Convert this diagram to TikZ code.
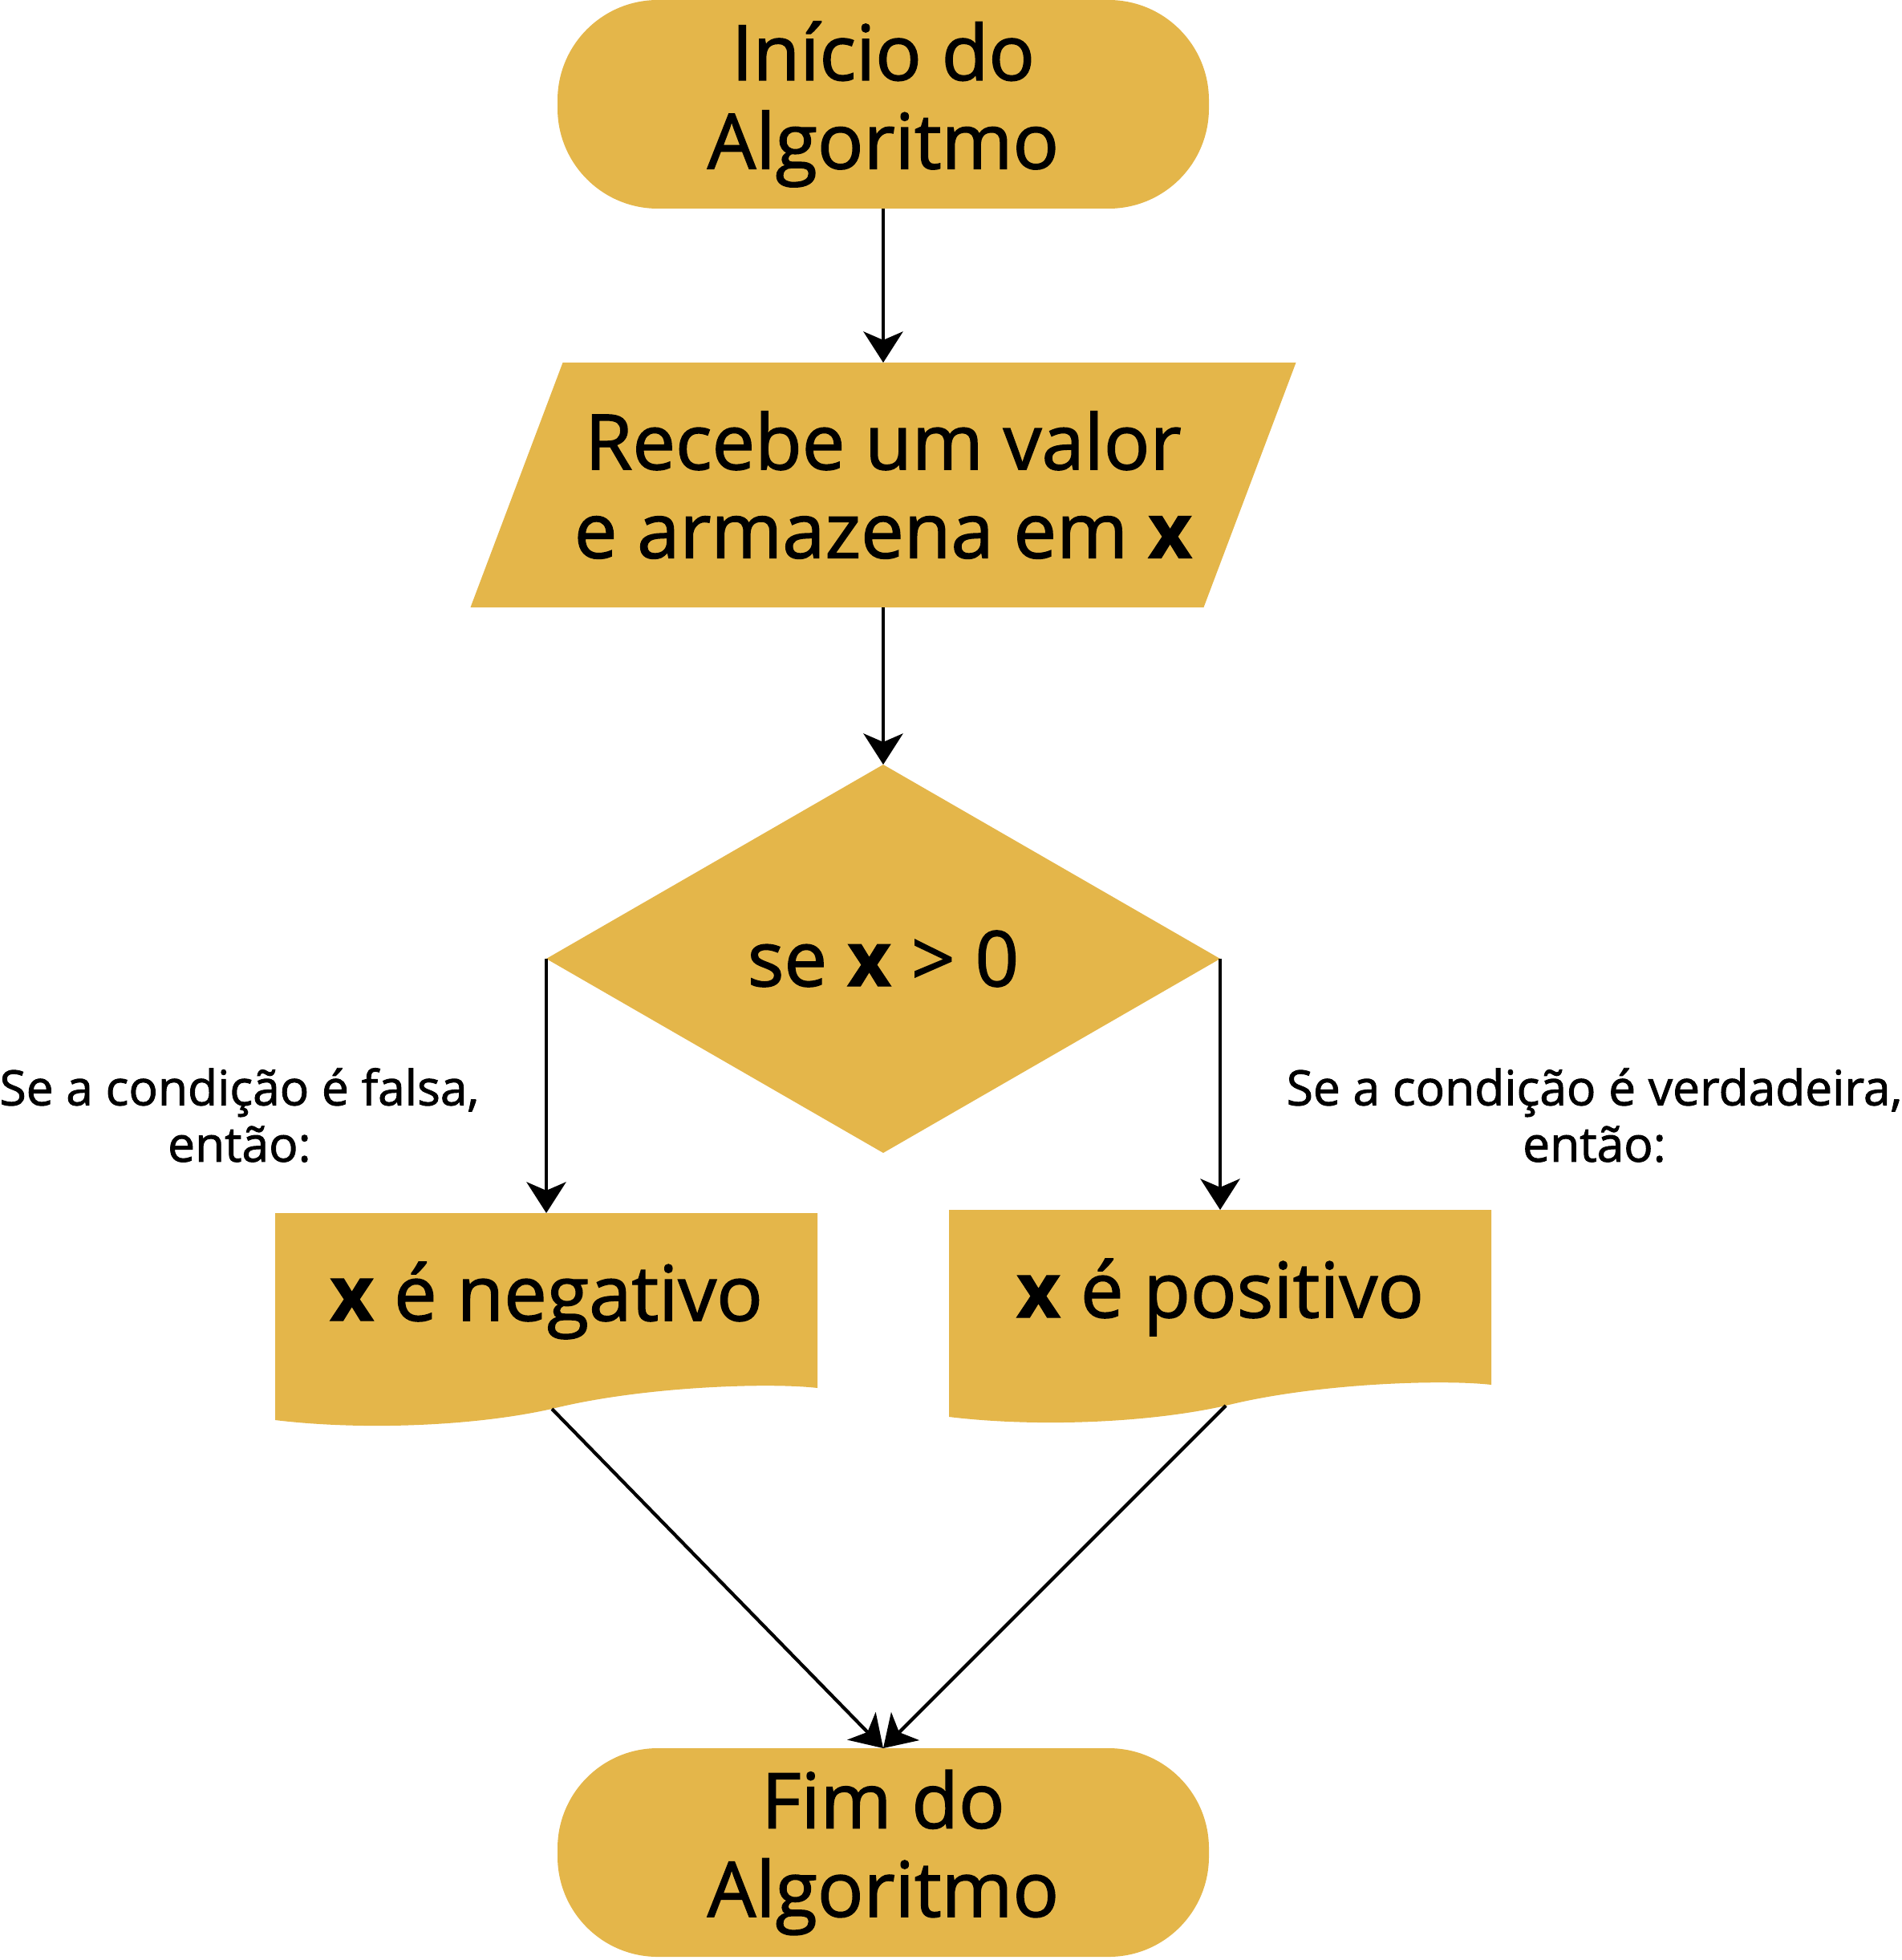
\documentclass[tikz,border=0pt]{standalone}
\usepackage{fontspec}
\setmainfont{Open Sans}[UprightFeatures={FakeBold=1.5}, BoldFeatures={FakeBold=1}]
\usepackage{tikz}
\usetikzlibrary{arrows.meta,positioning,shapes.geometric,calc,backgrounds}
\definecolor{ochre}{HTML}{E4B64A}
\tikzset{
  termbox/.style={
    rectangle, fill=ochre, rounded corners=1.25cm,
    minimum width=8.12cm, minimum height=2.6cm,
    font=\fontsize{27.2}{31.4}\selectfont, align=center,
    inner sep=0pt, outer sep=0pt
  },
  inputbox/.style={
    rectangle, minimum width=9.14cm, minimum height=3.05cm,
    font=\fontsize{27.2}{31.4}\selectfont, align=center,
    inner sep=0pt, outer sep=0pt
  },
  decbox/.style={
    diamond, fill=ochre,
    minimum width=8.4cm, minimum height=4.84cm,
    font=\fontsize{27.2}{31.4}\selectfont, align=center,
    inner sep=0pt, outer sep=0pt
  },
  docbox/.style={
    rectangle, minimum width=6.76cm, minimum height=2.18cm,
    font=\fontsize{27.2}{31.4}\selectfont, align=center,
    inner sep=0pt, outer sep=0pt
  },
  condlabel/.style={
    font=\fontsize{17.2}{20}\selectfont, align=center, inner sep=0pt
  },
  flowarrow/.style={
    -{Stealth[length=11pt, width=14pt, inset=3pt]}, line width=1.2pt, color=black
  },
}
% slanted input box behind a plain node
\newcommand{\paralshape}[1]{%
  \fill[ochre] ($(#1.north west)+(0.575,0)$) -- ($(#1.north east)+(0.575,0)$)
    -- ($(#1.south east)+(-0.575,0)$) -- ($(#1.south west)+(-0.575,0)$) -- cycle;}
% wavy bottom of a document box, leaves coordinate (name-wave)
\newcommand{\docshape}[1]{%
  \fill[ochre] (#1.north west) -- (#1.north east) -- (#1.south east)
    .. controls +(-0.6,0.07) and +(1.12,0.28) .. ($(#1.south)+(0.07,-0.26)$) coordinate (#1-wave)
    .. controls +(-0.98,-0.22) and +(1.07,-0.13) .. ($(#1.south west)+(0,-0.40)$) -- cycle;}

\begin{document}
\begin{tikzpicture}
    \useasboundingbox (0,0) rectangle (23.70,-24.43);

    % MAIN COLUMN
    \node[termbox] (inicio) at (11.01,-1.30) {Início do\\Algoritmo};
    \node[inputbox, below=1.92cm of inicio] (input) {Recebe um valor\\e armazena em \textbf{x}};
    \node[decbox, below=1.96cm of input] (dec) {se \textbf{x} > 0};

    % BRANCHES
    \node[docbox, below=3.17cm of dec.west] (neg) {\textbf{x} é negativo};
    \node[docbox, below=3.13cm of dec.east] (pos) {\textbf{x} é positivo};
    \begin{scope}[on background layer]
        \paralshape{input}
        \docshape{neg}
        \docshape{pos}
    \end{scope}

    \node[condlabel, left=0.83cm of dec.west, yshift=-1.95cm] (falselbl) {Se a condição é falsa,\\então:};
    \node[condlabel, right=0.82cm of dec.east, yshift=-1.95cm] (truelbl) {Se a condição é verdadeira,\\então:};

    \node[termbox, below=7.42cm of dec.south] (fim) {Fim do\\Algoritmo};

    % Arrows
    \draw[flowarrow] (inicio.south) -- (input.north);
    \draw[flowarrow] (input.south) -- (dec.north);
    \draw[flowarrow] (dec.west) -- (neg.north);
    \draw[flowarrow] (dec.east) -- (pos.north);
    \draw[flowarrow] (neg-wave) -- (fim.north);
    \draw[flowarrow] (pos-wave) -- (fim.north);
\end{tikzpicture}
\end{document}
